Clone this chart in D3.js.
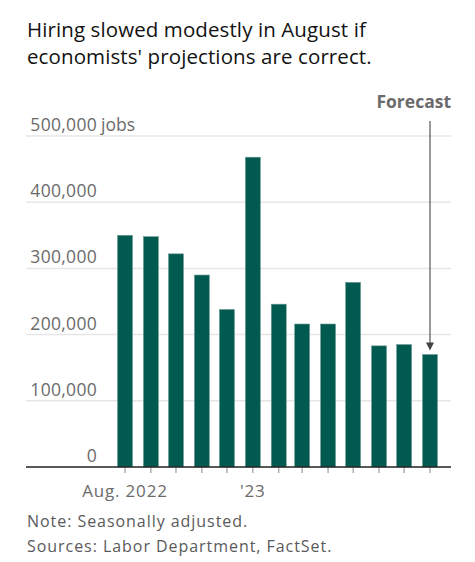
<!DOCTYPE html>
<html>
<head>
<meta charset="utf-8">
<script src="https://cdn.jsdelivr.net/npm/d3@7"></script>
<style>
  html, body { margin: 0; padding: 0; background: #fff; }
  svg { display: block; font-family: "Open Sans", "Noto Sans", sans-serif; }
</style>
</head>
<body>
<script>
// ---- data ----
const months = ["2022-08","2022-09","2022-10","2022-11","2022-12","2023-01","2023-02","2023-03","2023-04","2023-05","2023-06","2023-07","2023-08"];
const jobs = [350000, 348000, 322000, 290000, 238000, 468000, 246000, 216000, 216000, 279000, 183000, 185000, 170000];
const yTicks = [0, 100000, 200000, 300000, 400000, 500000];
const xTickLabels = [{date: "2022-08", label: "Aug. 2022"}, {date: "2023-01", label: "'23"}];
const titleLines = ["Hiring slowed modestly in August if", "economists' projections are correct."];
const noteLines = ["Note: Seasonally adjusted.", "Sources: Labor Department, FactSet."];
const forecastLabel = "Forecast";

const W = 475, H = 562;
const parse = d3.timeParse("%Y-%m");
const dates = months.map(parse);

const svg = d3.select("body").append("svg").attr("width", W).attr("height", H);

// title
svg.append("g").selectAll("text").data(titleLines).join("text")
  .attr("x", 27).attr("y", (d, i) => 37 + i * 27)
  .attr("fill", "#121212").attr("font-size", 20.5).attr("letter-spacing", 0.1)
  .text(d => d);

// scales
const x = d3.scaleTime().domain([dates[0], dates[dates.length - 1]]).range([125, 430]);
const y = d3.scaleLinear().domain([0, 500000]).range([467, 136]);
const left = 26, right = 451, barW = 15;

// grid
svg.append("g").selectAll("line").data(yTicks.filter(d => d > 0)).join("line")
  .attr("x1", left).attr("x2", right)
  .attr("y1", d => y(d)).attr("y2", d => y(d))
  .attr("stroke", "#e6e6e6").attr("stroke-width", 1.5);

// y labels
const fmt = d3.format(",");
const yl = svg.append("g");
yl.selectAll("text").data(yTicks).join("text")
  .attr("x", 97).attr("y", d => y(d) - 5)
  .attr("text-anchor", "end").attr("fill", "#6b6b6b").attr("font-size", 17.5)
  .attr("letter-spacing", 0.3)
  .text(d => fmt(d));
yl.append("text").attr("x", 101).attr("y", y(500000) - 5)
  .attr("fill", "#6b6b6b").attr("font-size", 17.5).text("jobs");

// x axis ticks
svg.append("g").selectAll("line").data(dates).join("line")
  .attr("x1", d => x(d)).attr("x2", d => x(d))
  .attr("y1", 467).attr("y2", 473)
  .attr("stroke", "#888").attr("stroke-width", 1);

svg.append("g").selectAll("text").data(xTickLabels).join("text")
  .attr("x", d => x(parse(d.date))).attr("y", 497)
  .attr("text-anchor", "middle").attr("fill", "#6b6b6b").attr("font-size", 17)
  .attr("letter-spacing", 0.8)
  .text(d => d.label);

// bars
svg.append("g").selectAll("rect").data(jobs).join("rect")
  .attr("x", (d, i) => x(dates[i]) - barW / 2)
  .attr("width", barW)
  .attr("y", d => y(d))
  .attr("height", d => y(0) - y(d))
  .attr("fill", "#015a4f")
  .attr("stroke", "#6f9f97").attr("stroke-width", 0.6);

// baseline
svg.append("line").attr("x1", left).attr("x2", right)
  .attr("y1", 467).attr("y2", 467)
  .attr("stroke", "#222").attr("stroke-width", 1.5);

// forecast annotation
const fx = x(dates[dates.length - 1]);
svg.append("text").attr("x", right).attr("y", 108)
  .attr("text-anchor", "end").attr("fill", "#6b6b6b")
  .attr("font-size", 17.5).attr("font-weight", "bold")
  .text(forecastLabel);
svg.append("line").attr("x1", fx).attr("x2", fx)
  .attr("y1", 121).attr("y2", 343)
  .attr("stroke", "#555").attr("stroke-width", 1.2);
const ay = y(jobs[jobs.length - 1]) - 4;
svg.append("path")
  .attr("d", `M${fx - 4},${ay - 8}L${fx + 4},${ay - 8}L${fx},${ay}Z`)
  .attr("fill", "#444");

// notes
svg.append("g").selectAll("text").data(noteLines).join("text")
  .attr("x", 27).attr("y", (d, i) => 527 + i * 24.5)
  .attr("fill", "#5a5a5a").attr("font-size", 16).attr("letter-spacing", 0.95)
  .text(d => d);
</script>
</body>
</html>
